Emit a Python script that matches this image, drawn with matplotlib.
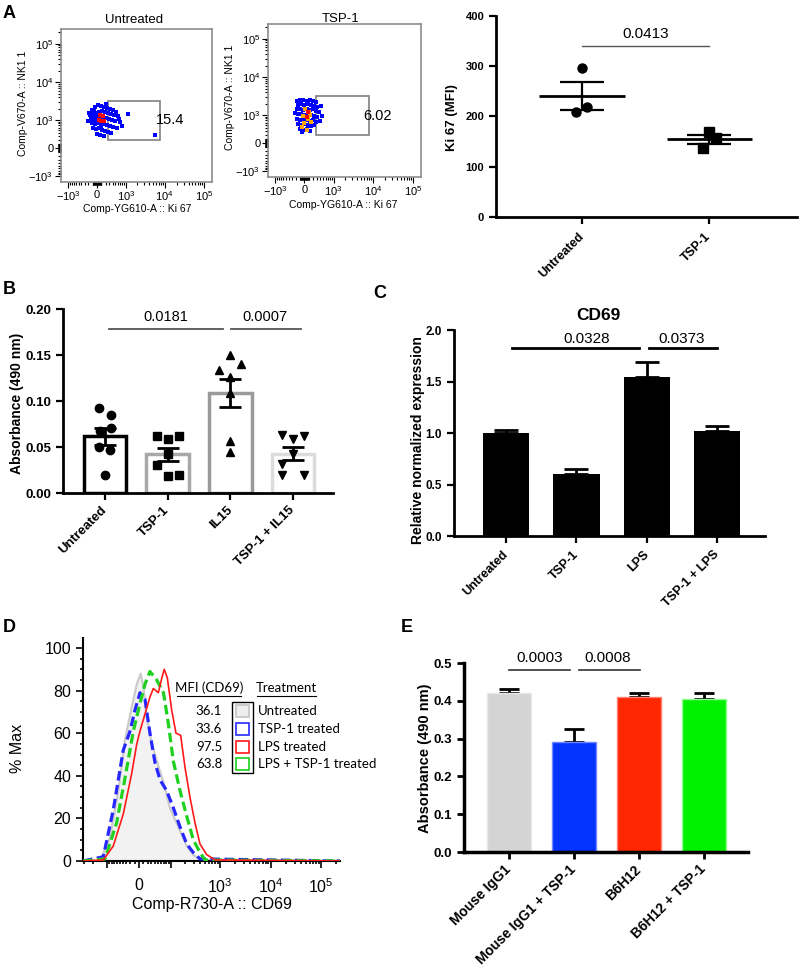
import numpy as np
import matplotlib
matplotlib.use('Agg')
import matplotlib.pyplot as plt
from matplotlib.patches import Rectangle
from matplotlib.lines import Line2D

plt.rcParams['font.family'] = ['Liberation Sans', 'DejaVu Sans']
plt.rcParams['mathtext.default'] = 'regular'

W, H = 800, 972

# ---------------- data ----------------
# A: flow dot plots (Ki 67 vs NK1.1), events
gate_x = [270, 7800]
gate_y = [200, 3300]
gate_pct = ['15.4', '6.02']

untr_blue_x = [-114, -45, 22, 91, 162, 238, 322, 414, 520,
               -162, -91, -22, 45, 114, 187, 265, 351, 448, 598,
               -138, -68, 0, 68, 138, 212, 293, 382, 483, 684,
               -114, -45, 22, 91, 162, 238, 322, 414, 558,
               -91, -22, 45, 114, 187, 265, 351,
               0, 68, 162,
               -187, -212, 1143, 5670, 782, 640, -45, 91, -68, 212]
untr_blue_y = [1857, 2235, 2520, 2375, 2235, 2100, 1975, 1857, 1648,
               1365, 1451, 1550, 1648, 1750, 1648, 1550, 1451, 1365, 1285,
               1060, 1131, 1205, 1131, 1205, 1131, 1060, 996, 935, 876,
               820, 768, 820, 876, 768, 720, 672, 627, 583,
               583, 542, 583, 502, 465, 428, 395,
               363, 332, 302,
               1550, 935, 1451, 332, 672, 1060, 996, 672, 1857, 2680]
untr_red_x = [68, 138, 91, 162, 45]
untr_red_y = [1365, 1285, 935, 935, 996]

tsp_blue_x = [-162, -91, -22, 45, 114, 187, 265,
              -138, -68, 0, 68, 138, 212, 293, 414,
              -162, -91, -22, 45, 114, 187, 265, 351,
              -138, -68, 0, 68, 138, 212, 293, 448,
              -162, -91, -22, 45, 114, 187, 265,
              -138, -68, 0, 68, 138, 212,
              -91, -22, 45, 114,
              -45, -212, 382]
tsp_blue_y = [2375, 2520, 2520, 2375, 2520, 2375, 2235,
              1857, 1975, 1857, 1975, 1857, 1750, 1648, 1750,
              1451, 1451, 1365, 1451, 1365, 1451, 1285, 1205,
              1060, 1060, 996, 1060, 996, 935, 876, 935,
              768, 720, 768, 720, 672, 720, 627,
              542, 502, 542, 502, 465, 502,
              363, 332, 363, 302,
              273, 1131, 672]
tsp_orange_x = [22, 91, -22, 68, 0, 138, -45, 45, 114]
tsp_orange_y = [1451, 1205, 935, 768, 583, 627, 428, 332, 996]
tsp_red_x = [45, 68]
tsp_red_y = [876, 1205]

# A: Ki 67 MFI
ki67_groups = ['Untreated', 'TSP-1']
ki67_untreated = [296, 209, 218]
ki67_tsp1 = [169, 157, 137]
ki67_p = '0.0413'

# B: absorbance, NK cells
b_groups = ['Untreated', 'TSP-1', 'IL15', 'TSP-1 + IL15']
b_untreated = [0.092, 0.085, 0.071, 0.067, 0.050, 0.047, 0.020]
b_tsp1 = [0.062, 0.059, 0.062, 0.042, 0.030, 0.019, 0.020]
b_il15 = [0.150, 0.134, 0.140, 0.126, 0.109, 0.057, 0.045]
b_tsp1_il15 = [0.063, 0.059, 0.062, 0.042, 0.032, 0.020, 0.020]
b_p = ['0.0181', '0.0007']

# C: CD69 relative expression
c_groups = ['Untreated', 'TSP-1', 'LPS', 'TSP-1 + LPS']
c_mean = [1.00, 0.60, 1.54, 1.02]
c_sem = [0.03, 0.055, 0.145, 0.05]
c_p = ['0.0328', '0.0373']

# D: CD69 histograms (% Max)
gray_x = [-318, -143, -87, -54, -34, -17, -5, 3.9, 9.9, 17.9, 31, 45, 68, 96, 146, 217, 290, 400, 236000]
gray_y = [0, 0, 11, 33, 57, 72, 83, 88, 82, 68, 55, 47, 37, 25, 16, 7, 3, 0.5, 0]
blue_x = [-318, -122, -73, -39, -21, -9, 2.3, 13.8, 26, 40, 56, 81, 114, 158, 217, 294, 400, 236000]
blue_y = [0, 2, 24, 52, 61, 71, 79, 76, 60, 46, 38, 33, 25, 16, 8, 4, 1, 0]
green_x = [-318, -112, -60, -34, -13, 2.3, 13.8, 26, 45, 68, 88, 114, 158, 217, 294, 400, 503, 236000]
green_y = [0, 1, 18, 39, 61, 74, 83, 89, 85, 79, 65, 47, 33, 21, 10, 4, 0.5, 0]
red_x = [-318, -122, -73, -39, -17, -5, 2.3, 13.8, 26, 35, 50, 62, 71, 84, 105, 130, 163, 200, 252, 318, 400, 544, 795, 236000]
red_y = [0, 0.5, 7, 22, 41, 55, 61, 69, 77, 81, 79, 86, 90, 86, 71, 60, 59, 44, 30, 18, 8, 3, 0.5, 0]
d_mfi = ['36.1', '33.6', '97.5', '63.8']
d_treat = ['Untreated', 'TSP-1 treated', 'LPS treated', 'LPS + TSP-1 treated']

# E: absorbance with antibodies
e_groups = ['Mouse IgG1', 'Mouse IgG1 + TSP-1', 'B6H12', 'B6H12 + TSP-1']
e_mean = [0.420, 0.292, 0.411, 0.406]
e_sem = [0.012, 0.034, 0.010, 0.015]
e_p = ['0.0003', '0.0008']

# ---------------- figure ----------------
fig = plt.figure(figsize=(8, 9.72), dpi=100)


def px_axes(l, t, r, b):
    return fig.add_axes([l / W, 1 - b / H, (r - l) / W, (b - t) / H])


def label(x, y, s, **kw):
    fig.text(x / W, 1 - y / H, s, **kw)


def biex(c):
    return (lambda v: np.arcsinh(np.asarray(v, dtype=float) / c),
            lambda v: c * np.sinh(np.asarray(v, dtype=float)))


def sem(v):
    return np.std(v, ddof=1) / np.sqrt(len(v))


def prism_axes(ax, lw=2):
    for s in ['top', 'right']:
        ax.spines[s].set_visible(False)
    for s in ['left', 'bottom']:
        ax.spines[s].set_linewidth(lw)
    ax.tick_params(direction='out', width=lw * 0.8, length=5)


# panel letters
for ch, (x, y) in zip('ABCDE', [(9, 14), (9, 289), (380, 293), (9, 627), (407, 628)]):
    label(x, y, ch, fontsize=13, fontweight='bold', ha='center', va='center')

# ---- A: flow plots ----
flow_major = [-1000, 0, 1000, 10000, 100000]
flow_labels = [r'$-10^3$', '0', r'$10^3$', r'$10^4$', r'$10^5$']
flow_minor = ([-s * k for s in (10, 100) for k in range(1, 10)] +
              [s * k for s in (10, 100, 1000, 10000) for k in range(1, 10)])


def flow_plot(box, title, tx, layers, pct, pct_xy, xl, yl):
    ax = px_axes(*box)
    ax.set_xscale('function', functions=biex(386))
    ax.set_yscale('function', functions=biex(386))
    for xs, ys, col in layers:
        ax.scatter(xs, ys, s=5.5, marker='s', color=col, linewidths=0, zorder=3)
    ax.add_patch(Rectangle((gate_x[0], gate_y[0]), gate_x[1] - gate_x[0], gate_y[1] - gate_y[0],
                           fill=False, ec='#808080', lw=1.2, zorder=2))
    ax.text(pct_xy[0], pct_xy[1], pct, ha='center', va='center', fontsize=10.5)
    ax.set_xticks(flow_major, flow_labels)
    ax.set_yticks(flow_major, flow_labels)
    ax.set_xticks(flow_minor, minor=True)
    ax.set_yticks(flow_minor + [200000], minor=True)
    ax.set_xlim(-1550, 157000)
    ax.set_ylim(-1450, 240000)
    ax.tick_params(which='both', direction='out', width=0.8, labelsize=8, color='k')
    ax.tick_params(which='major', length=4, pad=1.5)
    ax.tick_params(which='minor', length=2)
    for s in ax.spines.values():
        s.set_color('#8c8c8c')
        s.set_linewidth(1.2)
    label(tx[0], tx[1], title, fontsize=9.5, ha='center', va='center')
    label(xl[0], xl[1], 'Comp-YG610-A :: Ki 67', fontsize=7.5, ha='center', va='center')
    label(yl[0], yl[1], 'Comp-V670-A :: NK1 1', fontsize=7.5, ha='center', va='center', rotation=90)


flow_plot((61, 29, 212, 182), 'Untreated', (134, 20),
          [(untr_blue_x, untr_blue_y, '#0000ff'), (untr_red_x, untr_red_y, '#ff0000')],
          gate_pct[0], (13600, 1000), (137, 209), (23, 103))
flow_plot((268, 24, 421, 177), 'TSP-1', (341, 19),
          [(tsp_blue_x, tsp_blue_y, '#0000ff'), (tsp_orange_x, tsp_orange_y, '#ffa500'),
           (tsp_red_x, tsp_red_y, '#ff0000')],
          gate_pct[1], (12900, 935), (343, 205), (230, 97))

# ---- A: Ki 67 MFI ----
ax = px_axes(496, 15.7, 797, 217)
ki67_sets = [ki67_untreated, ki67_tsp1]
for i, (vals, mk, offs) in enumerate(zip(ki67_sets, ['o', 's'], [[0, -0.05, 0.04], [0, 0.05, -0.05]])):
    m = np.mean(vals)
    ax.plot(np.full(len(vals), i) + np.array(offs), vals, mk, color='k', ms=6.5, zorder=3)
    ax.hlines(m, i - 0.335, i + 0.335, color='k', lw=2, zorder=4)
    ax.errorbar(i, m, yerr=sem(vals), fmt='none', ecolor='k', elinewidth=1.6,
                capsize=15.5, capthick=1.6, zorder=4)
ax.plot([0, 1], [340, 340], color='#555555', lw=1)
ax.text(0.5, 350, ki67_p, ha='center', va='bottom', fontsize=11)
ax.set_xticks([0, 1])
ax.set_yticks([0, 100, 200, 300, 400])
ax.set_xlim(-0.677, 1.69)
ax.set_ylim(0, 400)
prism_axes(ax)
ax.set_yticklabels(['0', '100', '200', '300', '400'], fontsize=8, fontweight='bold')
ax.set_xticklabels(ki67_groups, rotation=45, ha='right', va='center', rotation_mode='anchor',
                   fontsize=9, fontweight='bold')
ax.tick_params(axis='x', pad=8)
label(452, 118, 'Ki 67 (MFI)', fontsize=9.5, fontweight='bold', rotation=90, ha='center', va='center')

# ---- B ----
ax = px_axes(63, 309, 333, 493)
b_sets = [b_untreated, b_tsp1, b_il15, b_tsp1_il15]
b_edges = ['black', '#a8a8a8', '#9a9a9a', '#dcdcdc']
b_marks = ['o', 's', '^', 'v']
b_offs = [[-0.09, 0.09, 0.09, -0.08, -0.1, 0.08, 0],
          [-0.175, 0, 0.175, 0, -0.175, 0, 0.175],
          [0, -0.18, 0.17, 0, 0, 0, 0],
          [-0.18, 0, 0.17, 0, -0.18, -0.18, 0.17]]
for i, vals in enumerate(b_sets):
    ax.bar(i, np.mean(vals), width=0.68, color='white', edgecolor=b_edges[i], linewidth=2.5, zorder=2)
    ax.plot(np.full(len(vals), i) + np.array(b_offs[i]), vals, b_marks[i], color='k', ms=6, zorder=3)
    ax.errorbar(i, np.mean(vals), yerr=sem(vals), fmt='none', ecolor='k', elinewidth=2,
                capsize=8, capthick=2, zorder=4)
ax.plot([0.06, 1.88], [0.178, 0.178], color='#555555', lw=1.3, clip_on=False)
ax.plot([2.01, 3.13], [0.178, 0.178], color='#555555', lw=1.3, clip_on=False)
ax.text(0.97, 0.1835, b_p[0], ha='center', va='bottom', fontsize=10.5)
ax.text(2.55, 0.1835, b_p[1], ha='center', va='bottom', fontsize=10.5)
ax.set_xticks(range(4))
ax.set_yticks([0, 0.05, 0.10, 0.15, 0.20])
ax.set_xlim(-0.67, 3.64)
ax.set_ylim(0, 0.20)
prism_axes(ax)
ax.set_yticklabels(['0.00', '0.05', '0.10', '0.15', '0.20'], fontsize=9.5, fontweight='bold')
ax.set_xticklabels(b_groups, rotation=45, ha='right', va='center', rotation_mode='anchor',
                   fontsize=9.5, fontweight='bold')
ax.tick_params(axis='x', pad=6)
label(17.5, 403, 'Absorbance (490 nm)', fontsize=10, fontweight='bold', rotation=90, ha='center', va='center')

# ---- C ----
ax = px_axes(454, 330, 765, 536)
ax.bar(range(4), c_mean, width=0.66, color='black', zorder=2)
ax.errorbar(range(4), c_mean, yerr=[np.zeros(4), c_sem], fmt='none', ecolor='k', elinewidth=2,
            capsize=8.5, capthick=2, zorder=1)
ax.plot([0.085, 1.89], [1.822, 1.822], color='k', lw=2, clip_on=False)
ax.plot([2.03, 3.0], [1.822, 1.822], color='k', lw=2, clip_on=False)
ax.text(1.14, 1.845, c_p[0], ha='center', va='bottom', fontsize=11)
ax.text(2.5, 1.845, c_p[1], ha='center', va='bottom', fontsize=11)
ax.set_xticks(range(4))
ax.set_yticks([0, 0.5, 1.0, 1.5, 2.0])
ax.set_xlim(-0.74, 3.68)
ax.set_ylim(0, 2.0)
prism_axes(ax)
ax.set_yticklabels(['0.0', '0.5', '1.0', '1.5', '2.0'], fontsize=8.5, fontweight='bold')
ax.set_xticklabels(c_groups, rotation=45, ha='right', va='center', rotation_mode='anchor',
                   fontsize=9, fontweight='bold')
ax.tick_params(axis='x', pad=7)
label(598, 315, 'CD69', fontsize=12.5, fontweight='bold', ha='center', va='center')
label(418, 440, 'Relative normalized expression', fontsize=10, fontweight='bold',
      rotation=90, ha='center', va='center')

# ---- D ----
ax = px_axes(83, 638, 340, 861)
ax.set_xscale('function', functions=biex(50))
ax.fill_between(gray_x, gray_y, color='#f2f2f2', lw=0, zorder=1)
ax.plot(gray_x, gray_y, color='#cbcbcb', lw=1.6, zorder=2)
ax.plot(blue_x, blue_y, color='#2727ff', lw=2.3, ls=(0, (3, 1.4)), zorder=3)
ax.plot(green_x, green_y, color='#1fd01f', lw=2.3, ls=(0, (3, 1.4)), zorder=4)
ax.plot(red_x, red_y, color='#ff1a1a', lw=1.2, zorder=5)
ax.set_yticks(range(0, 101, 20))
ax.set_yticks(range(0, 101, 5), minor=True)
ax.set_xticks([-100, 0, 100, 1000, 10000, 100000], ['', '0', '', r'$10^3$', r'$10^4$', r'$10^5$'])
ax.set_xticks([-s * k for s in (10, 100) for k in range(1, 10) if s * k < 318] +
              [s * k for s in (10, 100, 1000, 10000) for k in range(1, 10)] + [200000], minor=True)
ax.set_xlim(-318, 236000)
ax.set_ylim(0, 104.7)
for s in ['top', 'right']:
    ax.spines[s].set_visible(False)
for s in ['left', 'bottom']:
    ax.spines[s].set_linewidth(1.5)
ax.tick_params(which='both', direction='out', width=1.2, labelsize=11.5)
ax.tick_params(which='major', length=5)
ax.tick_params(which='minor', length=2.5)
ax.tick_params(axis='x', pad=7)
label(212, 905, 'Comp-R730-A :: CD69', fontsize=11.5, ha='center', va='center')
label(17, 748, '% Max', fontsize=11.5, rotation=90, ha='center', va='center')

# legend of D
lg_font = ['Lato', 'DejaVu Sans']
label(209, 688, 'MFI (CD69)', fontsize=9.5, family=lg_font, ha='center', va='center')
label(286, 688, 'Treatment', fontsize=9.5, family=lg_font, ha='center', va='center')
fig.add_artist(Line2D([177 / W, 241 / W], [1 - 696 / H] * 2, color='k', lw=0.8))
fig.add_artist(Line2D([257 / W, 316 / W], [1 - 696 / H] * 2, color='k', lw=0.8))
fig.add_artist(Rectangle((232 / W, 1 - 773 / H), 21 / W, 71 / H, fill=False, ec='k', lw=1,
                         transform=fig.transFigure))
sq_fc = ['#eeeeee', 'none', 'none', 'none']
sq_ec = ['#c4c4c4', '#2727ff', '#ff1a1a', '#1fd01f']
for k, yc in enumerate([711, 729, 747, 764]):
    label(222, yc, d_mfi[k], fontsize=9.5, family=lg_font, ha='right', va='center')
    label(258, yc, d_treat[k], fontsize=9.5, family=lg_font, ha='left', va='center')
    fig.add_artist(Rectangle((236 / W, 1 - (yc + 6) / H), 13 / W, 12 / H, fc=sq_fc[k], ec=sq_ec[k],
                             lw=1.2, transform=fig.transFigure))

# ---- E ----
ax = px_axes(464, 663, 748, 852)
e_cols = ['#d4d4d4', '#0433ff', '#ff2600', '#00f000']
e_edge = ['#e8e8e8', '#7088ff', '#ff8070', '#90ff90']
ax.bar(range(4), e_mean, width=0.67, color=e_cols, edgecolor=e_edge, linewidth=1, zorder=2)
ax.errorbar(range(4), e_mean, yerr=[np.zeros(4), e_sem], fmt='none', ecolor='k', elinewidth=2,
            capsize=7, capthick=2, zorder=1)
ax.plot([0.0, 0.94], [0.4815, 0.4815], color='#333333', lw=1.2, clip_on=False)
ax.plot([1.08, 2.02], [0.4815, 0.4815], color='#333333', lw=1.2, clip_on=False)
ax.text(0.48, 0.494, e_p[0], ha='center', va='bottom', fontsize=11, clip_on=False)
ax.text(1.52, 0.494, e_p[1], ha='center', va='bottom', fontsize=11, clip_on=False)
ax.set_xticks(range(4))
ax.set_yticks([0, 0.1, 0.2, 0.3, 0.4, 0.5])
ax.set_xlim(-0.69, 3.68)
ax.set_ylim(0, 0.5)
prism_axes(ax, lw=2.5)
ax.set_yticklabels(['0.0', '0.1', '0.2', '0.3', '0.4', '0.5'], fontsize=9.5, fontweight='bold')
ax.set_xticklabels(e_groups, rotation=45, ha='right', va='center', rotation_mode='anchor',
                   fontsize=10, fontweight='bold')
ax.tick_params(axis='x', pad=6)
label(425, 758, 'Absorbance (490 nm)', fontsize=10.5, fontweight='bold', rotation=90, ha='center', va='center')

fig.savefig('out.png', dpi=100)
